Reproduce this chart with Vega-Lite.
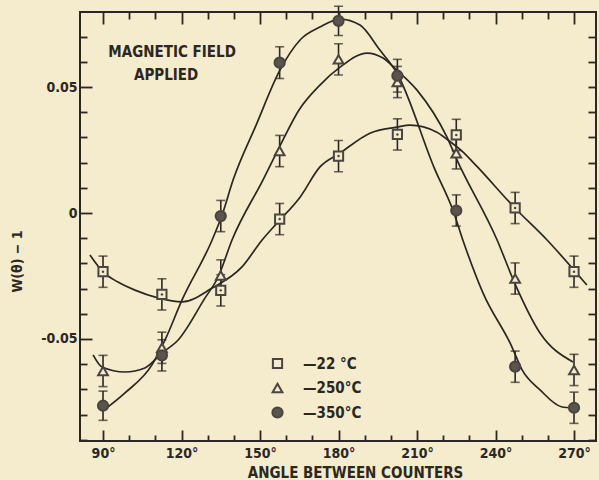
{
  "$schema": "https://vega.github.io/schema/vega-lite/v6.json",
  "width": 516,
  "height": 429,
  "autosize": {"type": "none"},
  "padding": {"left": 80, "top": 12, "right": 3, "bottom": 39},
  "background": "#f5ebcd",
  "config": {
    "view": {"stroke": "#2b2723", "strokeWidth": 2},
    "font": "'DejaVu Sans Condensed', 'DejaVu Sans', sans-serif",
    "axis": {
      "domain": false,
      "grid": false,
      "labelFont": "'DejaVu Sans Condensed', 'DejaVu Sans', sans-serif",
      "labelFontWeight": "bold",
      "labelFontSize": 14,
      "labelColor": "#2b2723",
      "tickColor": "#2b2723",
      "tickWidth": 1.8,
      "titleFont": "'DejaVu Sans Condensed', 'DejaVu Sans', sans-serif",
      "titleFontWeight": "bold",
      "titleColor": "#2b2723"
    },
    "legend": {
      "labelFont": "'DejaVu Sans Condensed', 'DejaVu Sans', sans-serif"
    }
  },
  "datasets": {
    "points": [
      {"series": "22 °C", "angle": 90, "w": -0.0233, "err": 0.0062},
      {"series": "22 °C", "angle": 112.5, "w": -0.0323, "err": 0.0062},
      {"series": "22 °C", "angle": 135, "w": -0.0307, "err": 0.0062},
      {"series": "22 °C", "angle": 157.5, "w": -0.0024, "err": 0.0062},
      {"series": "22 °C", "angle": 180, "w": 0.0226, "err": 0.0062},
      {"series": "22 °C", "angle": 202.5, "w": 0.0312, "err": 0.0062},
      {"series": "22 °C", "angle": 225, "w": 0.031, "err": 0.0062},
      {"series": "22 °C", "angle": 247.5, "w": 0.002, "err": 0.0062},
      {"series": "22 °C", "angle": 270, "w": -0.0233, "err": 0.0062},
      {"series": "250°C", "angle": 90, "w": -0.0627, "err": 0.0062},
      {"series": "250°C", "angle": 112.5, "w": -0.0535, "err": 0.0062},
      {"series": "250°C", "angle": 135, "w": -0.0248, "err": 0.0062},
      {"series": "250°C", "angle": 157.5, "w": 0.0246, "err": 0.0062},
      {"series": "250°C", "angle": 180, "w": 0.061, "err": 0.0062},
      {"series": "250°C", "angle": 202.5, "w": 0.052, "err": 0.0062},
      {"series": "250°C", "angle": 225, "w": 0.0237, "err": 0.0062},
      {"series": "250°C", "angle": 247.5, "w": -0.026, "err": 0.0062},
      {"series": "250°C", "angle": 270, "w": -0.0623, "err": 0.0062},
      {"series": "350°C", "angle": 90, "w": -0.0765, "err": 0.0058},
      {"series": "350°C", "angle": 112.5, "w": -0.0565, "err": 0.0062},
      {"series": "350°C", "angle": 135, "w": -0.0012, "err": 0.0062},
      {"series": "350°C", "angle": 157.5, "w": 0.0597, "err": 0.0063},
      {"series": "350°C", "angle": 180, "w": 0.0763, "err": 0.0058},
      {"series": "350°C", "angle": 202.5, "w": 0.0545, "err": 0.0065},
      {"series": "350°C", "angle": 225, "w": 0.001, "err": 0.0062},
      {"series": "350°C", "angle": 247.5, "w": -0.061, "err": 0.0062},
      {"series": "350°C", "angle": 270, "w": -0.0773, "err": 0.0062}
    ],
    "curves": [
      {"series": "22 °C", "angle": 85.0, "w": -0.0167},
      {"series": "22 °C", "angle": 90.0, "w": -0.0234},
      {"series": "22 °C", "angle": 95.7, "w": -0.0274},
      {"series": "22 °C", "angle": 102.2, "w": -0.0306},
      {"series": "22 °C", "angle": 111.0, "w": -0.0337},
      {"series": "22 °C", "angle": 120.2, "w": -0.0353},
      {"series": "22 °C", "angle": 131.7, "w": -0.0298},
      {"series": "22 °C", "angle": 143.1, "w": -0.0214},
      {"series": "22 °C", "angle": 150.8, "w": -0.0107},
      {"series": "22 °C", "angle": 156.5, "w": -0.004},
      {"series": "22 °C", "angle": 165.3, "w": 0.0063},
      {"series": "22 °C", "angle": 172.9, "w": 0.0183},
      {"series": "22 °C", "angle": 180.6, "w": 0.0238},
      {"series": "22 °C", "angle": 192.0, "w": 0.0317},
      {"series": "22 °C", "angle": 202.3, "w": 0.0341},
      {"series": "22 °C", "angle": 207.3, "w": 0.0349},
      {"series": "22 °C", "angle": 217.6, "w": 0.0321},
      {"series": "22 °C", "angle": 221.8, "w": 0.029},
      {"series": "22 °C", "angle": 227.6, "w": 0.0242},
      {"series": "22 °C", "angle": 232.9, "w": 0.0185},
      {"series": "22 °C", "angle": 247.4, "w": 0.002},
      {"series": "22 °C", "angle": 259.7, "w": -0.0107},
      {"series": "22 °C", "angle": 274.9, "w": -0.0286},
      {"series": "250°C", "angle": 86.2, "w": -0.0563},
      {"series": "250°C", "angle": 89.6, "w": -0.0611},
      {"series": "250°C", "angle": 98.4, "w": -0.0631},
      {"series": "250°C", "angle": 106.0, "w": -0.0615},
      {"series": "250°C", "angle": 112.5, "w": -0.0556},
      {"series": "250°C", "angle": 118.7, "w": -0.0504},
      {"series": "250°C", "angle": 129.0, "w": -0.0337},
      {"series": "250°C", "angle": 134.0, "w": -0.0254},
      {"series": "250°C", "angle": 139.3, "w": -0.0107},
      {"series": "250°C", "angle": 151.1, "w": 0.0131},
      {"series": "250°C", "angle": 157.6, "w": 0.0266},
      {"series": "250°C", "angle": 164.9, "w": 0.0409},
      {"series": "250°C", "angle": 172.9, "w": 0.0508},
      {"series": "250°C", "angle": 180.6, "w": 0.0579},
      {"series": "250°C", "angle": 190.9, "w": 0.0635},
      {"series": "250°C", "angle": 197.0, "w": 0.0615},
      {"series": "250°C", "angle": 202.3, "w": 0.0567},
      {"series": "250°C", "angle": 210.0, "w": 0.0488},
      {"series": "250°C", "angle": 221.4, "w": 0.0302},
      {"series": "250°C", "angle": 225.3, "w": 0.021},
      {"series": "250°C", "angle": 240.6, "w": -0.0107},
      {"series": "250°C", "angle": 247.4, "w": -0.028},
      {"series": "250°C", "angle": 257.0, "w": -0.0476},
      {"series": "250°C", "angle": 269.6, "w": -0.0591},
      {"series": "350°C", "angle": 90.0, "w": -0.0785},
      {"series": "350°C", "angle": 98.4, "w": -0.0714},
      {"series": "350°C", "angle": 108.7, "w": -0.0603},
      {"series": "350°C", "angle": 113.7, "w": -0.0504},
      {"series": "350°C", "angle": 120.2, "w": -0.0345},
      {"series": "350°C", "angle": 131.7, "w": -0.0107},
      {"series": "350°C", "angle": 135.5, "w": -0.0008},
      {"series": "350°C", "angle": 139.7, "w": 0.0131},
      {"series": "350°C", "angle": 148.5, "w": 0.0349},
      {"series": "350°C", "angle": 157.6, "w": 0.0567},
      {"series": "350°C", "angle": 165.3, "w": 0.0687},
      {"series": "350°C", "angle": 172.9, "w": 0.0738},
      {"series": "350°C", "angle": 180.6, "w": 0.077},
      {"series": "350°C", "angle": 188.2, "w": 0.0746},
      {"series": "350°C", "angle": 195.8, "w": 0.0647},
      {"series": "350°C", "angle": 202.3, "w": 0.0556},
      {"series": "350°C", "angle": 216.9, "w": 0.0171},
      {"series": "350°C", "angle": 223.7, "w": 0.0012},
      {"series": "350°C", "angle": 227.6, "w": -0.011},
      {"series": "350°C", "angle": 235.2, "w": -0.0317},
      {"series": "350°C", "angle": 246.3, "w": -0.0532},
      {"series": "350°C", "angle": 250.0, "w": -0.062},
      {"series": "350°C", "angle": 257.0, "w": -0.0702},
      {"series": "350°C", "angle": 265.4, "w": -0.077},
      {"series": "350°C", "angle": 269.6, "w": -0.0774}
    ],
    "notes": [
      {"text": "MAGNETIC FIELD", "angle": 116.4, "w": 0.0639},
      {"text": "APPLIED", "angle": 114.1, "w": 0.0548}
    ]
  },
  "resolve": {"axis": {"x": "independent", "y": "independent"}},
  "layer": [
    {
      "mark": {"type": "rule", "color": "#2b2723", "strokeWidth": 1.6},
      "encoding": {
        "y": {"datum": 0, "type": "quantitative", "scale": {"domain": [-0.0905, 0.0798], "nice": false, "zero": false}, "axis": null}
      }
    },
    {
      "data": {"name": "curves"},
      "mark": {"type": "line", "interpolate": "monotone", "strokeWidth": 1.7, "color": "#2b2723"},
      "encoding": {
        "x": {
          "field": "angle", "type": "quantitative",
          "scale": {"domain": [81.2, 278.4], "nice": false, "zero": false},
          "axis": {
            "orient": "bottom",
            "values": [90, 120, 150, 180, 210, 240, 270],
            "labelExpr": "datum.value + '°'",
            "ticks": false,
            "labelPadding": 5,
            "title": "ANGLE BETWEEN COUNTERS",
            "titleFontSize": 15,
            "titleX": 275,
            "titleY": 31,
            "titleBaseline": "middle",
            "titleAlign": "center"
          }
        },
        "y": {
          "field": "w", "type": "quantitative",
          "scale": {"domain": [-0.0905, 0.0798], "nice": false, "zero": false},
          "axis": {
            "orient": "left",
            "values": [-0.05, 0, 0.05],
            "labelExpr": "abs(datum.value) < 0.001 ? '0' : datum.value > 0 ? '0.05' : '-0.05'",
            "ticks": false,
            "labelPadding": 3,
            "title": "W(θ) − 1",
            "titleFontSize": 14,
            "titleX": -63,
            "titleY": 249,
            "titleBaseline": "middle",
            "titleAlign": "center"
          }
        },
        "detail": {"field": "series"}
      }
    },
    {
      "data": {"name": "points"},
      "mark": {"type": "errorbar", "ticks": {"size": 9}, "thickness": 1.6, "color": "#2b2723"},
      "encoding": {
        "x": {"field": "angle", "type": "quantitative", "scale": {"domain": [81.2, 278.4], "nice": false, "zero": false}, "axis": null},
        "y": {"field": "w", "type": "quantitative", "scale": {"domain": [-0.0905, 0.0798], "nice": false, "zero": false}, "axis": null},
        "yError": {"field": "err"},
        "detail": {"field": "series"}
      }
    },
    {
      "data": {"name": "points"},
      "mark": {"type": "point", "strokeWidth": 2, "opacity": 1},
      "encoding": {
        "x": {
          "field": "angle", "type": "quantitative",
          "scale": {"domain": [81.2, 278.4], "nice": false, "zero": false},
          "axis": {
            "orient": "top",
            "values": [90, 120, 150, 180, 210, 240, 270],
            "labels": false,
            "tickSize": 12,
            "offset": -12,
            "title": null
          }
        },
        "y": {
          "field": "w", "type": "quantitative",
          "scale": {"domain": [-0.0905, 0.0798], "nice": false, "zero": false},
          "axis": {
            "orient": "right",
            "values": [-0.09, -0.08, -0.07, -0.06, -0.05, -0.04, -0.03, -0.02, -0.01, 0, 0.01, 0.02, 0.03, 0.04, 0.05, 0.06, 0.07],
            "labels": false,
            "tickSize": 8,
            "offset": -8,
            "title": null
          }
        },
        "shape": {"field": "series", "type": "nominal", "scale": {"range": ["square", "triangle-up", "circle"]},
          "legend": {
            "orient": "none", "legendX": 190, "legendY": 344, "title": null,
            "labelFontSize": 15, "labelFontWeight": "bold", "labelColor": "#2b2723",
            "labelExpr": "'—' + datum.label",
            "symbolStrokeWidth": 2, "rowPadding": 6.5, "labelOffset": 18, "padding": 0
          }
        },
        "fill": {"field": "series", "type": "nominal", "scale": {"range": ["#f5ebcd", "#f5ebcd", "#5a544e"]}},
        "stroke": {"field": "series", "type": "nominal", "scale": {"range": ["#4a4540", "#4a4540", "#4a4540"]}},
        "size": {"field": "series", "type": "nominal", "scale": {"range": [85, 105, 50]}}
      }
    },
    {
      "data": {"name": "points"},
      "transform": [{"filter": "datum.series == '22 °C'"}],
      "mark": {"type": "point", "shape": "circle", "filled": true, "size": 6, "color": "#4a4540", "opacity": 1},
      "encoding": {
        "x": {
          "field": "angle", "type": "quantitative",
          "scale": {"domain": [81.2, 278.4], "nice": false, "zero": false},
          "axis": {
            "orient": "bottom",
            "values": [90, 120, 150, 180, 210, 240, 270],
            "labels": false,
            "tickSize": 11,
            "offset": -11,
            "title": null
          }
        },
        "y": {
          "field": "w", "type": "quantitative",
          "scale": {"domain": [-0.0905, 0.0798], "nice": false, "zero": false},
          "axis": {
            "orient": "left",
            "values": [-0.05, 0, 0.05],
            "labels": false,
            "tickSize": 12,
            "offset": -12,
            "title": null
          }
        }
      }
    },
    {
      "data": {"name": "notes"},
      "mark": {"type": "text", "fontSize": 15, "fontWeight": "bold", "color": "#2b2723", "align": "center", "baseline": "middle"},
      "encoding": {
        "x": {
          "field": "angle", "type": "quantitative",
          "scale": {"domain": [81.2, 278.4], "nice": false, "zero": false},
          "axis": {
            "orient": "bottom",
            "values": [100, 110, 130, 140, 160, 170, 190, 200, 220, 230, 250, 260],
            "labels": false,
            "tickSize": 6,
            "offset": -6,
            "title": null
          }
        },
        "y": {
          "field": "w", "type": "quantitative",
          "scale": {"domain": [-0.0905, 0.0798], "nice": false, "zero": false},
          "axis": {
            "orient": "left",
            "values": [-0.09, -0.08, -0.07, -0.06, -0.04, -0.03, -0.02, -0.01, 0.01, 0.02, 0.03, 0.04, 0.06, 0.07],
            "labels": false,
            "tickSize": 7,
            "offset": -7,
            "title": null
          }
        },
        "text": {"field": "text"}
      }
    },
    {
      "data": {"name": "notes"},
      "mark": {"type": "text", "opacity": 0},
      "encoding": {
        "x": {
          "field": "angle", "type": "quantitative",
          "scale": {"domain": [81.2, 278.4], "nice": false, "zero": false},
          "axis": {
            "orient": "top",
            "values": [100, 110, 130, 140, 160, 170, 190, 200, 220, 230, 250, 260],
            "labels": false,
            "tickSize": 7,
            "offset": -7,
            "title": null
          }
        },
        "y": {"field": "w", "type": "quantitative", "scale": {"domain": [-0.0905, 0.0798], "nice": false, "zero": false}, "axis": null},
        "text": {"field": "text"}
      }
    }
  ]
}
